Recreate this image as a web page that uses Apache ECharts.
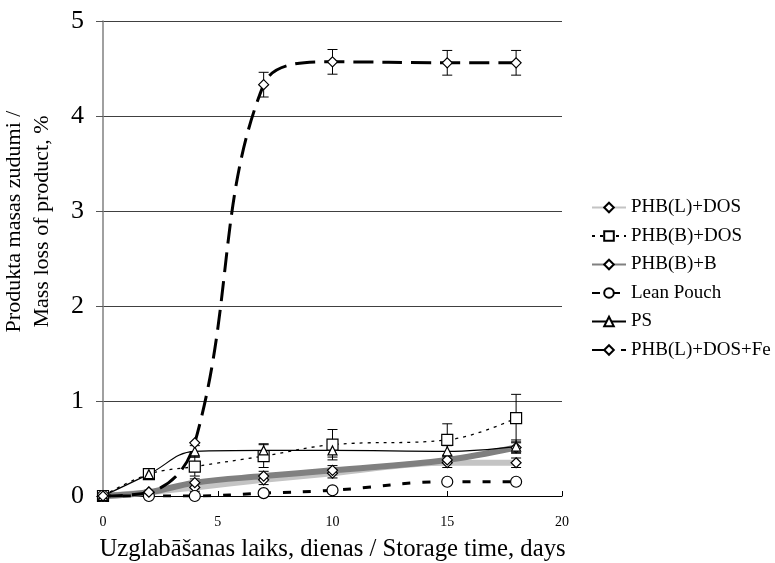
<!DOCTYPE html>
<html>
<head>
<meta charset="utf-8">
<script src="https://cdn.jsdelivr.net/npm/echarts@6/dist/echarts.min.js"></script>
<style>
  html, body { margin: 0; padding: 0; background: #fff; }
  #chart { width: 775px; height: 563px; }
</style>
</head>
<body>
<div id="chart"></div>
<script>
// storage days
const days = [0, 2, 4, 7, 10, 15, 18];

const names = ['PHB(L)+DOS', 'PHB(B)+DOS', 'PHB(B)+B', 'Lean Pouch', 'PS', 'PHB(L)+DOS+Fe'];

// mass loss, %
const phbLDos   = [0, 0.04, 0.09, 0.17, 0.24, 0.35, 0.35];
const phbBDos   = [0, 0.23, 0.31, 0.42, 0.54, 0.59, 0.82];
const phbBB     = [0, 0.04, 0.14, 0.21, 0.27, 0.38, 0.51];
const leanPouch = [0, 0, 0, 0.03, 0.06, 0.15, 0.15];
const ps        = [0, 0.23, 0.47, 0.48, 0.48, 0.47, 0.52];
const phbLDosFe = [0, 0.04, 0.56, 4.33, 4.57, 4.56, 4.56];

// error (+/-)
const errLDos   = [0, 0.02, 0.04, 0.05, 0.05, 0.05, 0.05];
const errBDos   = [0, 0.04, 0.1, 0.12, 0.16, 0.17, 0.25];
const errBB     = [0, 0.02, 0.04, 0.05, 0.05, 0.05, 0.05];
const errLean   = [0, 0, 0, 0, 0, 0, 0];
const errPs     = [0, 0.03, 0.06, 0.07, 0.07, 0.06, 0.07];
const errFe     = [0, 0, 0, 0.13, 0.13, 0.13, 0.13];

const diamond = 'path://M0,-1L1,0L0,1L-1,0Z';

function pts(vals) { return days.map((d, i) => [d, vals[i]]); }
function errPts(vals, errs) { return days.map((d, i) => [d, vals[i], errs[i]]); }

function errorSeries(vals, errs) {
  return {
    type: 'custom',
    z: 3,
    silent: true,
    data: errPts(vals, errs),
    encode: { x: 0, y: 1 },
    renderItem: function (params, api) {
      const x = api.value(0), y = api.value(1), e = api.value(2);
      if (!e) return null;
      const hi = api.coord([x, y + e]);
      const lo = api.coord([x, y - e]);
      const w = 5;
      const style = { stroke: '#000', lineWidth: 1 };
      return {
        type: 'group',
        children: [
          { type: 'line', shape: { x1: hi[0], y1: hi[1], x2: lo[0], y2: lo[1] }, style: style },
          { type: 'line', shape: { x1: hi[0] - w, y1: hi[1], x2: hi[0] + w, y2: hi[1] }, style: style },
          { type: 'line', shape: { x1: lo[0] - w, y1: lo[1], x2: lo[0] + w, y2: lo[1] }, style: style }
        ]
      };
    }
  };
}

function lineSeries(name, vals, symbol, size, lineStyle) {
  return {
    name: name,
    type: 'line',
    data: pts(vals),
    smooth: 0.4,
    z: 4,
    symbol: symbol,
    symbolSize: size,
    showAllSymbol: true,
    lineStyle: lineStyle,
    itemStyle: { color: '#fff', borderColor: '#000', borderWidth: 1.2 },
    emphasis: { disabled: true }
  };
}

const chart = echarts.init(document.getElementById('chart'));
const font = 'Liberation Serif, Times New Roman, serif';

chart.setOption({
  animation: false,
  textStyle: { fontFamily: font },
  grid: { left: 103, right: 213, top: 21, bottom: 67, outerBoundsMode: 'none', containLabel: false },
  legend: {
    data: names,
    orient: 'vertical',
    left: 591,
    top: 198,
    padding: 0,
    itemWidth: 34,
    itemHeight: 12,
    itemGap: 9.5,
    textStyle: { fontFamily: font, fontSize: 19, color: '#000' }
  },
  xAxis: {
    type: 'value',
    min: 0,
    max: 20,
    interval: 5,
    name: 'Uzglabāšanas laiks, dienas / Storage time, days',
    nameLocation: 'middle',
    nameGap: 41,
    nameTextStyle: { fontFamily: font, fontSize: 24.7, color: '#000' },
    axisLine: { lineStyle: { color: '#000', width: 1 } },
    axisTick: { inside: true, length: 5, lineStyle: { color: '#000' } },
    axisLabel: { fontFamily: font, fontSize: 14, color: '#000', margin: 19 },
    splitLine: { show: false }
  },
  yAxis: {
    type: 'value',
    min: 0,
    max: 5,
    interval: 1,
    name: 'Produkta masas zudumi /\nMass loss of product, %',
    nameLocation: 'middle',
    nameGap: 47,
    nameRotate: 90,
    nameTextStyle: { fontFamily: font, fontSize: 22, color: '#000', lineHeight: 28,
      padding: [0, 0, 0, 74] },
    axisLine: { show: true, lineStyle: { color: '#808080', width: 1.5 } },
    axisTick: { show: true, length: 7, lineStyle: { color: '#555' } },
    axisLabel: { fontFamily: font, fontSize: 26, color: '#000', margin: 19 },
    splitLine: { lineStyle: { color: '#404040', width: 1 } }
  },
  series: [
    lineSeries(names[0], phbLDos, diamond, 10, { color: '#c4c4c4', width: 6 }),
    lineSeries(names[2], phbBB, diamond, 10, { color: '#808080', width: 6 }),
    lineSeries(names[1], phbBDos, 'rect', 11, { color: '#000', width: 1.3, type: [3, 5] }),
    lineSeries(names[3], leanPouch, 'circle', 11, { color: '#000', width: 3, type: [8, 12] }),
    lineSeries(names[4], ps, 'triangle', 9, { color: '#000', width: 1.2 }),
    lineSeries(names[5], phbLDosFe, diamond, 10, { color: '#000', width: 3, type: [20, 9] }),
    errorSeries(phbLDos, errLDos),
    errorSeries(phbBB, errBB),
    errorSeries(phbBDos, errBDos),
    errorSeries(leanPouch, errLean),
    errorSeries(ps, errPs),
    errorSeries(phbLDosFe, errFe)
  ]
});
</script>
</body>
</html>
